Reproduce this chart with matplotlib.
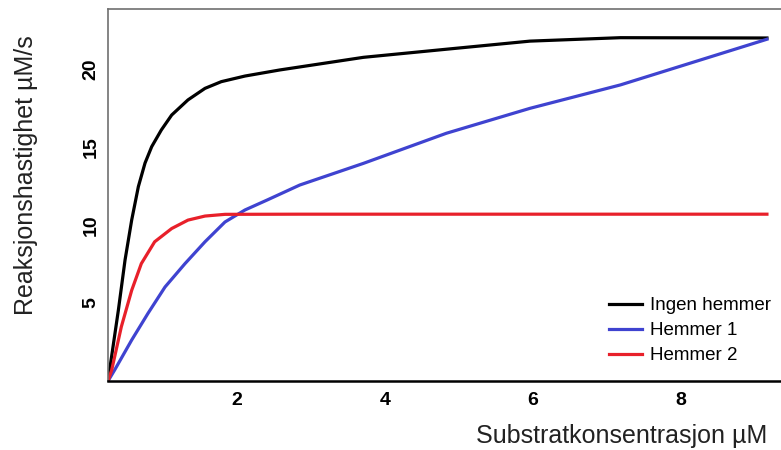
import matplotlib
matplotlib.use('Agg')
import matplotlib.pyplot as plt

plt.rcParams['font.family'] = ['Liberation Sans', 'DejaVu Sans']

# substrate concentration (uM) and reaction rate (uM/s)
x_ingen = [0.26, 0.40, 0.49, 0.58, 0.67, 0.76, 0.85, 0.98, 1.12, 1.34, 1.57, 1.79,
           2.11, 2.58, 3.71, 4.83, 5.96, 7.18, 9.16]
y_ingen = [0, 4.55, 7.76, 10.33, 12.47, 13.98, 15.03, 16.10, 17.06, 18.03, 18.77, 19.20,
           19.56, 19.95, 20.76, 21.28, 21.8, 22.02, 22.0]

x_h1 = [0.26, 0.35, 0.58, 0.80, 1.03, 1.30, 1.57, 1.84, 2.11, 2.41, 2.85, 3.71,
        4.83, 5.96, 7.18, 9.16]
y_h1 = [0, 0.71, 2.63, 4.34, 6.03, 7.53, 8.93, 10.20, 10.97, 11.61, 12.57, 13.96,
        15.89, 17.49, 18.99, 21.92]

x_h2 = [0.26, 0.31, 0.44, 0.58, 0.71, 0.89, 1.12, 1.34, 1.57, 1.84, 2.85, 9.16]
y_h2 = [0, 0.71, 3.48, 5.82, 7.53, 8.93, 9.78, 10.32, 10.58, 10.69, 10.7, 10.7]

xticks = [2, 4, 6, 8]
yticks = [5, 10, 15, 20]

fig = plt.figure(figsize=(7.81, 4.5), dpi=100)
ax = fig.add_axes([0.1383, 0.1533, 0.8617, 0.8267])

ax.plot(x_ingen, y_ingen, color='black', lw=2.3, label='Ingen hemmer')
ax.plot(x_h1, y_h1, color='#3f43d0', lw=2.3, label='Hemmer 1')
ax.plot(x_h2, y_h2, color='#e8202a', lw=2.3, label='Hemmer 2')

ax.set_xlim(0.26, 9.35)
ax.set_ylim(0, 23.86)
ax.set_xticks(xticks)
ax.set_yticks(yticks)
ax.tick_params(length=0, labelsize=14)
ax.tick_params(axis='x', pad=8)
ax.tick_params(axis='y', pad=6)
for lbl in ax.get_xticklabels():
    lbl.set_fontweight('bold')
for lbl in ax.get_yticklabels():
    lbl.set_fontweight('bold')
    lbl.set_rotation(90)
    lbl.set_va('center')

ax.spines['right'].set_visible(False)
ax.spines['top'].set_color('#707070')
ax.spines['left'].set_color('#707070')
ax.spines['top'].set_linewidth(1.2)
ax.spines['left'].set_linewidth(1.2)
ax.spines['bottom'].set_color('black')
ax.spines['bottom'].set_linewidth(1.8)

fig.text(0.033, 0.61, 'Reaksjonshastighet µM/s', rotation=90, fontsize=18,
         color='#222222', ha='center', va='center')
fig.text(0.983, 0.004, 'Substratkonsentrasjon µM', fontsize=18,
         color='#222222', ha='right', va='bottom')

ax.legend(loc='lower right', bbox_to_anchor=(1.01, 0.0), frameon=False,
          fontsize=13.5, handlelength=1.8, handletextpad=0.4, labelspacing=0.42)

fig.savefig('out.png', dpi=100)
